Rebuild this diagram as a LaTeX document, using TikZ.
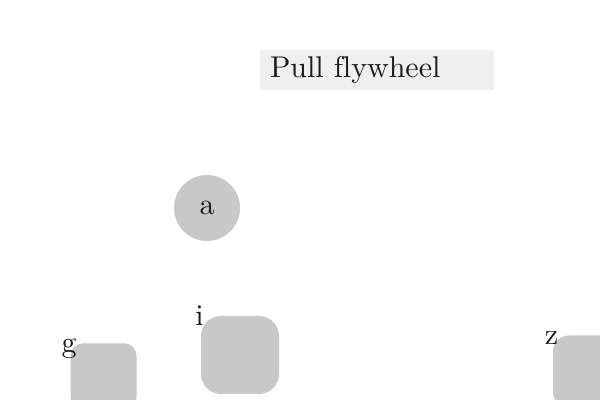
\documentclass[tikz,border=0pt]{standalone}
\usepackage{tikz}
\usepackage{graphicx}
\definecolor{blockgray}{HTML}{C8C8C8}
\definecolor{notegray}{HTML}{EFEFEF}
\definecolor{inkgray}{HTML}{1A1A1A}
\newcommand{\bigtxt}[1]{\scalebox{1.5}{\normalsize #1}}
\tikzset{
	blob/.style={fill=blockgray, draw=none, inner sep=0pt, text=inkgray},
	tag/.style={text=inkgray, inner sep=0pt, anchor=base, xshift=-0.5pt, yshift=-4.75pt},
}

\begin{document}
\begin{tikzpicture}[x=1pt, y=1pt]
    \useasboundingbox (0, 0) rectangle (300, 200);
    \node[fill=notegray, text=inkgray, inner xsep=5pt, inner ysep=0pt, text width=107pt, minimum height=20pt, align=left](note) at (188.5, 165){\bigtxt{Pull \mbox{f}lywheel}};
    \node[blob, circle, minimum size=33pt](a) at (103.5, 96){\bigtxt{a}};
    \node[blob, rounded corners=6pt, minimum size=33pt](g) at (51.75, 11.75){};
    \node[blob, rounded corners=10pt, minimum size=39pt](i) at (120, 22.5){};
    \node[blob, rounded corners=8pt, minimum size=36pt](z) at (294.5, 14.25){};
    \node[tag](gl) at (g.north west){\bigtxt{g}};
    \node[tag](il) at (i.north west){\bigtxt{i}};
    \node[tag](zl) at (z.north west){\bigtxt{z}};
\end{tikzpicture}
\end{document}
